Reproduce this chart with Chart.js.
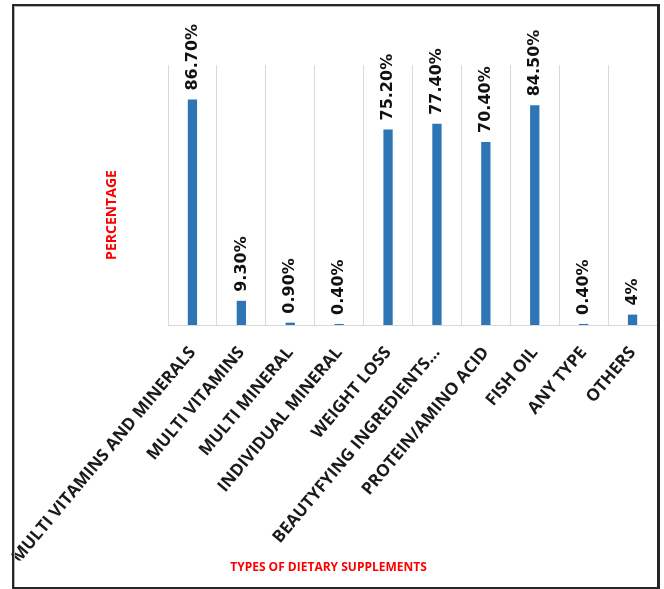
<!DOCTYPE html>
<html>
<head>
<meta charset="utf-8">
<script src="https://cdn.jsdelivr.net/npm/chart.js@4/dist/chart.umd.min.js"></script>
<style>
    body { margin: 0; background: #ffffff; }
    #wrap { position: relative; width: 664px; height: 589px; }
    #frame {
        position: absolute;
        left: 12px; top: 4px; width: 648px; height: 585px;
        box-sizing: border-box;
        border: 2px solid #262626;
        border-right-width: 3px;
        box-shadow: inset 1px 1px 0 #b0b0b0;
        pointer-events: none;
    }
</style>
</head>
<body>
<div id="wrap">
    <canvas id="supplementChart" width="664" height="589"></canvas>
    <div id="frame"></div>
</div>
<script>
"use strict";

// Categories of dietary supplements (x axis)
const categories = [
    "MULTI VITAMINS AND MINERALS",
    "MULTI VITAMINS",
    "MULTI MINERAL",
    "INDIVIDUAL MINERAL",
    "WEIGHT LOSS",
    "BEAUTYFYING INGREDIENTS…",
    "PROTEIN/AMINO ACID",
    "FISH OIL",
    "ANY TYPE",
    "OTHERS"
];

// Percentage of use for each category
const percentages = [86.7, 9.3, 0.9, 0.4, 75.2, 77.4, 70.4, 84.5, 0.4, 4];

// Text printed above each bar
const valueLabels = [
    "86.70%", "9.30%", "0.90%", "0.40%", "75.20%",
    "77.40%", "70.40%", "84.50%", "0.40%", "4%"
];

const barColor = "#2E75B6";
const gridColor = "#d9d9d9";
const titleRed = "#ff0000";

// Draws the vertical value labels above the bars
const barValueLabels = {
    id: "barValueLabels",
    afterDatasetsDraw(chart) {
        const ctx = chart.ctx;
        const meta = chart.getDatasetMeta(0);
        ctx.save();
        ctx.font = "bold 16px 'DejaVu Sans'";
        ctx.fillStyle = "#111111";
        ctx.textAlign = "left";
        ctx.textBaseline = "middle";
        meta.data.forEach((bar, i) => {
            ctx.save();
            ctx.translate(bar.x, bar.y - 9);
            ctx.rotate(-Math.PI / 2);
            ctx.fillText(valueLabels[i], 0, 0);
            ctx.restore();
        });
        ctx.restore();
    }
};

// Y axis title, sitting a little below the middle of the axis
const yAxisTitle = {
    id: "yAxisTitle",
    afterDraw(chart) {
        const ctx = chart.ctx;
        const yScale = chart.scales.y;
        ctx.save();
        ctx.font = "bold 14px 'Open Sans'";
        ctx.fillStyle = titleRed;
        ctx.textAlign = "center";
        ctx.textBaseline = "middle";
        ctx.translate(yScale.left + 112, yScale.getPixelForValue(42.3));
        ctx.rotate(-Math.PI / 2);
        ctx.fillText("PERCENTAGE", 0, 0);
        ctx.restore();
    }
};

new Chart(document.querySelector("#supplementChart"), {
    type: "bar",
    data: {
        labels: categories,
        datasets: [
            {
                label: "Percentage",
                data: percentages,
                backgroundColor: barColor,
                categoryPercentage: 1,
                barPercentage: 0.19
            }
        ]
    },
    options: {
        responsive: false,
        animation: false,
        layout: {
            padding: { top: 65, right: 7, left: 0, bottom: 0 }
        },
        plugins: {
            legend: { display: false },
            tooltip: { enabled: false },
            title: {
                display: true,
                position: "bottom",
                text: "TYPES OF DIETARY SUPPLEMENTS",
                color: titleRed,
                font: { family: "'Open Sans'", size: 12, weight: "bold" },
                padding: { top: 0, bottom: 14 }
            }
        },
        scales: {
            x: {
                grid: {
                    offset: true,
                    color: gridColor,
                    drawTicks: false
                },
                border: { color: gridColor },
                ticks: {
                    autoSkip: false,
                    minRotation: 50,
                    maxRotation: 50,
                    padding: 18,
                    color: "#1a1a1a",
                    font: { family: "'Open Sans'", size: 17, weight: "bold" }
                },
                afterFit(scale) {
                    scale.height = 235.6;
                    scale.paddingLeft = 0;
                    scale.paddingRight = 0;
                }
            },
            y: {
                min: 0,
                max: 100,
                grid: { display: false },
                border: { display: false },
                ticks: { display: false },
                afterFit(scale) {
                    scale.width = 168;
                }
            }
        }
    },
    plugins: [barValueLabels, yAxisTitle]
});
</script>
</body>
</html>
